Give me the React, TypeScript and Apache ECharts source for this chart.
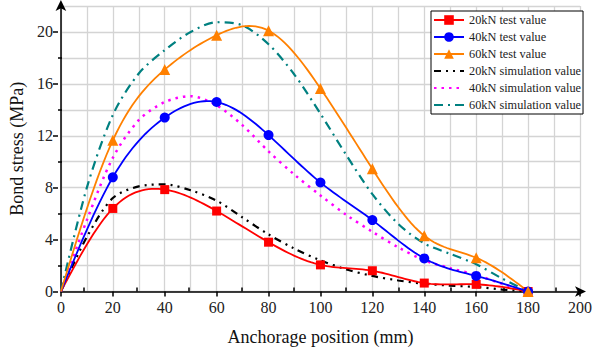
import React, { useEffect, useRef } from "react";
import * as echarts from "echarts";

const testX = [0, 20, 40, 60, 80, 100, 120, 140, 160, 180];
const test20 = [0, 6.4, 7.85, 6.2, 3.8, 2.05, 1.6, 0.65, 0.55, 0];
const test40 = [0, 8.8, 13.4, 14.6, 12.05, 8.4, 5.5, 2.55, 1.2, 0];
const test60 = [0, 11.65, 17.1, 19.75, 20.1, 15.65, 9.45, 4.3, 2.6, 0];

const simX = [0, 10, 20, 30, 40, 50, 60, 70, 80, 90, 100, 110, 120, 130, 140, 150, 160, 170, 180];
const sim20 = [0, 4.2, 7.2, 8.1, 8.25, 7.8, 7.0, 5.7, 4.4, 3.3, 2.4, 1.7, 1.2, 0.85, 0.6, 0.45, 0.35, 0.15, 0];
const sim40 = [0, 5.5, 10.3, 13.2, 14.6, 15.05, 14.35, 12.8, 10.8, 9.0, 7.4, 5.9, 4.6, 3.4, 2.4, 1.8, 1.27, 0.6, 0];
const sim60 = [0, 8.0, 13.6, 16.8, 18.6, 20.0, 20.75, 20.5, 19.05, 16.7, 13.7, 10.5, 7.5, 5.2, 3.7, 2.9, 2.1, 1.0, 0];

const seriesNames = [
  "20kN test value",
  "40kN test value",
  "60kN test value",
  "20kN simulation value",
  "40kN simulation value",
  "60kN simulation value",
];

const xName = "Anchorage position (mm)";
const yName = "Bond stress (MPa)";

const FONT = "Liberation Serif";

function testData(vals: number[]) {
  return testX.map((x, i) => (i === 0 ? { value: [x, vals[i]], symbol: "none" } : [x, vals[i]]));
}
function simData(vals: number[]) {
  return simX.map((x, i) => [x, vals[i]]);
}

// natural cubic spline through the data points (rendering only)
function splineSamples(xs: number[], ys: number[], steps = 16): number[][] {
  const n = xs.length;
  const h: number[] = [];
  for (let i = 0; i < n - 1; i++) h.push(xs[i + 1] - xs[i]);
  const a: number[] = new Array(n).fill(0);
  const b: number[] = new Array(n).fill(0);
  const c: number[] = new Array(n).fill(0);
  const d: number[] = new Array(n).fill(0);
  b[0] = 1; b[n - 1] = 1;
  for (let i = 1; i < n - 1; i++) {
    a[i] = h[i - 1];
    b[i] = 2 * (h[i - 1] + h[i]);
    c[i] = h[i];
    d[i] = 6 * ((ys[i + 1] - ys[i]) / h[i] - (ys[i] - ys[i - 1]) / h[i - 1]);
  }
  // Thomas algorithm
  const cp: number[] = new Array(n).fill(0);
  const dp: number[] = new Array(n).fill(0);
  cp[0] = c[0] / b[0];
  dp[0] = d[0] / b[0];
  for (let i = 1; i < n; i++) {
    const m = b[i] - a[i] * cp[i - 1];
    cp[i] = c[i] / m;
    dp[i] = (d[i] - a[i] * dp[i - 1]) / m;
  }
  const M: number[] = new Array(n).fill(0);
  M[n - 1] = dp[n - 1];
  for (let i = n - 2; i >= 0; i--) M[i] = dp[i] - cp[i] * M[i + 1];
  const out: number[][] = [];
  for (let i = 0; i < n - 1; i++) {
    for (let s = 0; s < steps; s++) {
      const t = s / steps;
      const x = xs[i] + t * h[i];
      const A = 1 - t;
      const B = t;
      const y =
        A * ys[i] + B * ys[i + 1] +
        ((A * A * A - A) * M[i] + (B * B * B - B) * M[i + 1]) * (h[i] * h[i]) / 6;
      out.push([x, y]);
    }
  }
  out.push([xs[n - 1], ys[n - 1]]);
  return out;
}

function curveSeries(vals: number[], color: string) {
  const samples = splineSamples(testX, vals);
  return {
    type: "custom",
    name: "curve-" + color,
    xAxisIndex: 0,
    yAxisIndex: 0,
    silent: true,
    z: 4,
    data: [[testX[0], vals[0]]],
    renderItem: (_p: any, api: any) => ({
      type: "polyline",
      shape: { points: samples.map((pt) => api.coord(pt)) },
      style: { stroke: color, lineWidth: 1.8, fill: null },
    }),
  };
}

export default function App() {
  const ref = useRef<HTMLDivElement>(null);
  useEffect(() => {
    if (!ref.current) return;
    const chart = echarts.init(ref.current, null, { renderer: "svg" });
    const L = 58, R = 13, T = 6, B = 62.5;
    const W = 595 - L - R;
    const H = 354 - T - B;
    const px = W / 200;
    const py = H / 22;
    const axisColor = "#000";
    const hiddenX = (g: number) => ({ type: "value", gridIndex: g, show: false, min: 0, max: 1 });
    const hiddenY = (g: number) => ({ type: "value", gridIndex: g, show: false, min: 0, max: 1 });
    const rich = { s: { fontFamily: FONT, fontSize: 16, color: "#222" } };

    const testSeries = (i: number, vals: number[], color: string, symbol: string, size: number) => ({
      name: seriesNames[i],
      type: "line",
      data: testData(vals),
      symbol,
      symbolSize: size,
      z: 5,
      itemStyle: { color },
      lineStyle: { color, width: 1.8, opacity: 0 },
    });

    const option: any = {
      animation: false,
      backgroundColor: "#fff",
      textStyle: { fontFamily: FONT },
      grid: [
        { left: L, right: R, top: T, bottom: B },
        { left: L, right: R, top: T + 2 * py, bottom: B },
        { left: L + 10 * px, right: R + 10 * px, top: T, bottom: B },
        { left: L, right: R, top: T + 4 * py, bottom: B + 2 * py },
      ],
      legend: {
        orient: "vertical",
        left: 431,
        top: 11,
        itemWidth: 30,
        itemHeight: 12,
        itemGap: 5,
        padding: [3, 2, 3, 2],
        borderColor: "#000",
        borderWidth: 1,
        borderRadius: 0,
        backgroundColor: "#fff",
        textStyle: { fontFamily: FONT, fontSize: 12.3, color: "#222" },
        data: seriesNames.map((n, i) =>
          i < 3 ? { name: n, lineStyle: { opacity: 1 } } : { name: n, itemStyle: { opacity: 0 } }
        ),
      },
      xAxis: [
        {
          type: "value",
          gridIndex: 0,
          position: "bottom",
          min: 0,
          max: 200,
          interval: 10,
          name: xName,
          nameLocation: "middle",
          nameGap: 36,
          nameTextStyle: { fontFamily: FONT, fontSize: 18, color: "#111" },
          axisLine: {
            show: true,
            lineStyle: { color: axisColor, width: 1.5 },
            symbol: ["none", "arrow"],
            symbolSize: [8, 11],
            symbolOffset: [0, 6],
          },
          axisTick: { show: false },
          axisLabel: {
            margin: 8,
            fontFamily: FONT,
            fontSize: 16,
            rich,
            formatter: (v: number) => (v % 20 === 0 ? "{s|" + v + "}" : ""),
          },
          splitLine: { show: true, lineStyle: { color: "#d4d4d4", width: 1.3 } },
        },
        {
          type: "value",
          gridIndex: 0,
          position: "bottom",
          min: 0,
          max: 200,
          interval: 20,
          axisLine: { show: false },
          axisTick: { show: true, inside: false, length: 5, lineStyle: { color: axisColor, width: 1.5 } },
          axisLabel: { show: false },
          splitLine: { show: false },
        },
        hiddenX(1),
        {
          type: "value",
          gridIndex: 2,
          position: "bottom",
          min: 10,
          max: 190,
          interval: 20,
          axisLine: { show: false },
          axisTick: { show: true, inside: true, length: 4, lineStyle: { color: axisColor, width: 1.5 } },
          axisLabel: { show: false },
          splitLine: { show: false },
        },
        hiddenX(3),
      ],
      yAxis: [
        {
          type: "value",
          gridIndex: 0,
          min: 0,
          max: 22,
          interval: 2,
          name: yName,
          nameLocation: "middle",
          nameGap: 33,
          nameTextStyle: { fontFamily: FONT, fontSize: 18, color: "#111" },
          axisLine: {
            show: true,
            lineStyle: { color: axisColor, width: 1.5 },
            symbol: ["none", "arrow"],
            symbolSize: [8, 11],
            symbolOffset: [0, 6],
          },
          axisTick: { show: false },
          axisLabel: {
            margin: 8,
            fontFamily: FONT,
            fontSize: 16,
            rich,
            formatter: (v: number) => (v % 4 === 0 && v <= 20 ? "{s|" + v + "}" : ""),
          },
          splitLine: { show: true, lineStyle: { color: "#d4d4d4", width: 1.3 } },
        },
        {
          type: "value",
          gridIndex: 1,
          min: 0,
          max: 20,
          interval: 4,
          axisLine: { show: false },
          axisTick: { show: true, inside: false, length: 5, lineStyle: { color: axisColor, width: 1.5 } },
          axisLabel: { show: false },
          splitLine: { show: false },
        },
        hiddenY(2),
        {
          type: "value",
          gridIndex: 3,
          min: 2,
          max: 18,
          interval: 4,
          axisLine: { show: false },
          axisTick: { show: true, inside: true, length: 4, lineStyle: { color: axisColor, width: 1.5 } },
          axisLabel: { show: false },
          splitLine: { show: false },
        },
      ],
      series: [
        testSeries(0, test20, "#ff0000", "rect", 9),
        testSeries(1, test40, "#0000ff", "circle", 10),
        testSeries(2, test60, "#ff8000", "triangle", 11),
        {
          name: seriesNames[3],
          type: "line",
          smooth: 0.3,
          data: simData(sim20),
          symbol: "none",
          z: 3,
          itemStyle: { color: "#000" },
          lineStyle: { color: "#000", width: 2.2, type: [7, 5, 2, 5, 2, 5] },
        },
        {
          name: seriesNames[4],
          type: "line",
          smooth: 0.3,
          data: simData(sim40),
          symbol: "none",
          z: 3,
          itemStyle: { color: "#ff00ff" },
          lineStyle: { color: "#ff00ff", width: 2.5, type: [2.5, 5] },
        },
        {
          name: seriesNames[5],
          type: "line",
          smooth: 0.3,
          data: simData(sim60),
          symbol: "none",
          z: 3,
          itemStyle: { color: "#008080" },
          lineStyle: { color: "#008080", width: 2.2, type: [9, 5, 2, 5] },
        },
        curveSeries(test20, "#ff0000"),
        curveSeries(test40, "#0000ff"),
        curveSeries(test60, "#ff8000"),
      ],
    };
    chart.setOption(option);
    return () => chart.dispose();
  }, []);
  return (
    <div
      ref={ref}
      style={{ position: "fixed", left: 0, top: 0, width: 595, height: 354, background: "#fff" }}
    />
  );
}
